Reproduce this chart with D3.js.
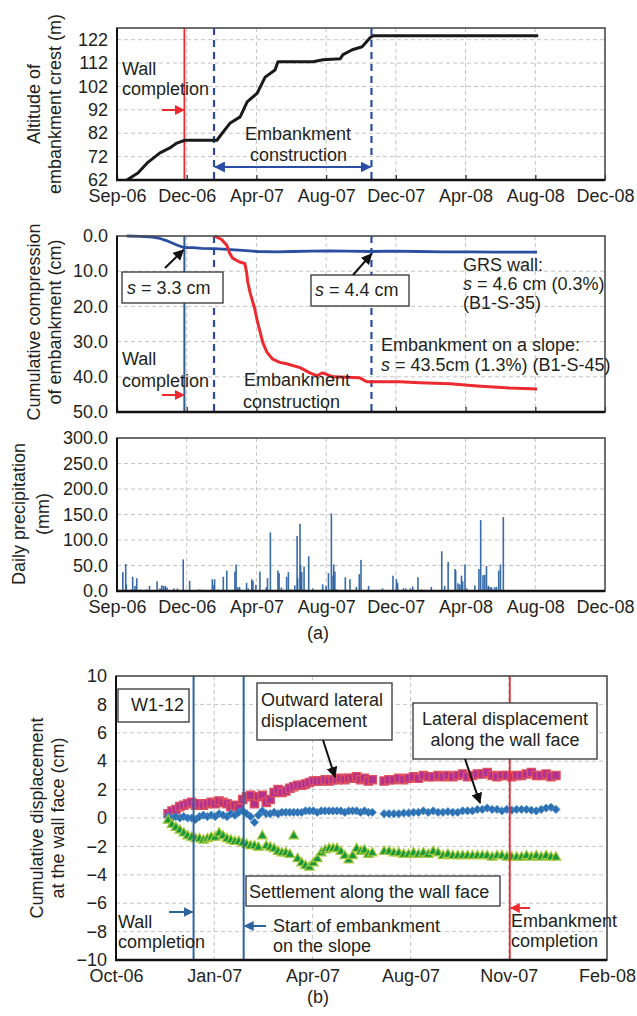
<!DOCTYPE html>
<html>
<head>
<meta charset="utf-8">
<script src="https://cdn.jsdelivr.net/npm/d3@7"></script>
<style>
  body { margin: 0; background: #fff; }
  svg { display: block; font-family: "Liberation Sans", Arial, Helvetica, sans-serif; }
</style>
</head>
<body>
<svg id="fig" width="637" height="1016"></svg>
<script>
// ---------- (a) altitude of embankment crest (m) ----------
const altDates = ["2006-09-18","2006-10-07","2006-10-23","2006-11-14","2006-12-01","2006-12-13","2006-12-27",
  "2007-02-20","2007-03-01","2007-03-15","2007-04-01","2007-04-13","2007-04-30","2007-05-14","2007-05-31",
  "2007-06-05","2007-08-04","2007-08-22","2007-09-20","2007-09-25","2007-10-11","2007-10-28","2007-11-11",
  "2007-11-16","2008-08-26"];
const altValues = [62,65,69.3,73.6,75.7,77.8,79,79,82,86.4,89,95.4,99,106,109,112.6,112.6,113.4,113.8,115.6,
  117.7,119,122.9,123.7,123.7];

// ---------- (a) cumulative compression of embankment (cm) ----------
const grsDates = ["2006-09-18","2006-10-10","2006-11-01","2006-11-14","2006-11-25","2006-12-05","2006-12-15",
  "2006-12-26","2007-01-10","2007-01-25","2007-02-15","2007-03-10","2007-04-05","2007-05-01","2007-06-01",
  "2007-07-01","2007-08-01","2007-09-01","2007-10-01","2007-11-13","2007-12-20","2008-02-01","2008-03-15",
  "2008-05-01","2008-06-15","2008-08-24"];
const grsValues = [0.0,0.1,0.3,0.7,1.3,2.0,2.7,3.3,3.3,3.5,3.6,3.8,4.1,4.4,4.5,4.4,4.3,4.2,4.3,4.4,4.3,4.4,4.5,
  4.5,4.6,4.6];
const slopeDates = ["2007-02-16","2007-02-28","2007-03-09","2007-03-14","2007-03-19","2007-03-31","2007-04-09",
  "2007-04-12","2007-04-14","2007-04-18","2007-04-26","2007-05-01","2007-05-10","2007-05-17","2007-05-27",
  "2007-06-08","2007-06-20","2007-07-13","2007-07-30","2007-08-11","2007-08-21","2007-09-08","2007-10-24",
  "2007-11-05","2008-01-01","2008-02-04","2008-03-27","2008-05-13","2008-07-08","2008-08-24"];
const slopeValues = [0.0,1.0,2.6,4.9,6.3,7.4,7.8,10.2,13.0,16.0,20.6,24.5,30.3,33.0,35.0,35.9,36.3,37.4,38.9,
  39.7,38.9,40.0,40.3,41.4,41.4,41.7,42.0,42.6,43.2,43.5];

// ---------- (a) daily precipitation (mm), rainy days only ----------
const rainDates = ["2006-09-01","2006-09-11","2006-09-16","2006-09-17","2006-09-25","2006-09-28","2006-10-02",
  "2006-10-05","2006-10-11","2006-10-21","2006-10-27","2006-11-06","2006-11-09","2006-11-14","2006-11-17",
  "2006-11-20","2006-11-23","2006-11-26","2006-12-08","2006-12-14","2006-12-24","2007-01-04","2007-01-20",
  "2007-01-25","2007-01-29","2007-02-12","2007-02-15","2007-02-16","2007-02-22","2007-03-03","2007-03-09",
  "2007-03-23","2007-03-25","2007-03-28","2007-03-31","2007-04-12","2007-04-15","2007-04-21","2007-04-23",
  "2007-04-28","2007-05-05","2007-05-16","2007-05-18","2007-05-23","2007-06-05","2007-06-07","2007-06-11",
  "2007-06-20","2007-06-23","2007-06-28","2007-07-04","2007-07-08","2007-07-09","2007-07-13","2007-07-14",
  "2007-07-16","2007-07-20","2007-07-28","2007-08-04","2007-08-21","2007-08-27","2007-08-31","2007-09-05",
  "2007-09-08","2007-09-09","2007-09-11","2007-09-14","2007-09-29","2007-10-07","2007-10-18","2007-10-23",
  "2007-10-26","2007-10-30","2007-11-05","2007-11-08","2007-12-02","2007-12-20","2007-12-26","2007-12-28",
  "2008-01-07","2008-01-11","2008-01-19","2008-01-23","2008-02-01","2008-02-07","2008-02-24","2008-03-13",
  "2008-03-18","2008-03-24","2008-04-05","2008-04-06","2008-04-10","2008-04-13","2008-04-16","2008-04-18",
  "2008-04-22","2008-04-25","2008-05-09","2008-05-16","2008-05-19","2008-05-23","2008-05-26","2008-05-29",
  "2008-06-01","2008-06-04","2008-06-07","2008-06-12","2008-06-15","2008-06-19","2008-06-22","2008-06-27"];
const rainValues = [57,37,53,13,3,28,10,25,3,3,10,2,19,5,11,10,10,7,5,5,62,20,3,3,2,23,12,23,3,28,40,38,52,7,8,
  16,5,23,20,12,38,7,25,115,40,35,7,28,37,3,11,108,25,132,50,37,48,68,5,13,10,35,152,30,52,38,3,27,23,8,33,61,2,
  2,10,5,30,23,16,5,5,5,9,27,3,8,78,10,57,43,40,15,13,30,19,52,5,11,43,139,31,32,49,10,8,7,7,8,40,52,145];

// ---------- (b) W1-12 wall face displacement (cm) ----------
const faceDates = ["2006-11-30","2006-12-04","2006-12-08","2006-12-12","2006-12-16","2006-12-20","2006-12-24",
  "2006-12-28","2007-01-01","2007-01-05","2007-01-09","2007-01-13","2007-01-17","2007-01-21","2007-01-25",
  "2007-01-29","2007-02-02","2007-02-06","2007-02-10","2007-02-14","2007-02-18","2007-02-22","2007-02-26",
  "2007-03-02","2007-03-06","2007-03-10","2007-03-14","2007-03-18","2007-03-22","2007-03-26","2007-03-30",
  "2007-04-03","2007-04-07","2007-04-11","2007-04-15","2007-04-19","2007-04-23","2007-04-27","2007-05-01",
  "2007-05-05","2007-05-09","2007-05-13","2007-05-17","2007-05-21","2007-05-25","2007-05-29","2007-06-02",
  "2007-06-06","2007-06-10","2007-06-14","2007-06-18","2007-06-22","2007-06-26",
  "2007-07-08","2007-07-13","2007-07-18","2007-07-23","2007-07-28","2007-08-02","2007-08-07","2007-08-12",
  "2007-08-17","2007-08-22","2007-08-27","2007-09-01","2007-09-06","2007-09-11","2007-09-16","2007-09-21",
  "2007-09-26","2007-10-01","2007-10-06","2007-10-11","2007-10-16","2007-10-21","2007-10-26","2007-10-31",
  "2007-11-05","2007-11-10","2007-11-15","2007-11-20","2007-11-25","2007-11-30","2007-12-05","2007-12-10",
  "2007-12-15","2007-12-20","2007-12-25","2007-12-30"];
const outwardValues = [0.3,0.5,0.6,0.8,0.9,1.0,1.1,0.9,1.0,0.9,1.0,1.1,1.0,1.2,1.1,1.0,0.8,0.9,0.7,1.3,
  1.5,1.6,1.0,1.5,1.6,1.1,1.3,1.8,2.0,1.8,1.9,2.1,2.2,2.3,2.3,2.4,2.5,2.6,2.6,2.6,2.7,2.6,2.7,2.7,2.8,2.7,
  2.8,2.8,2.9,2.7,2.8,2.6,2.7,
  2.6,2.7,2.7,2.8,2.7,2.8,2.9,2.8,3.0,2.9,2.9,3.0,2.9,3.0,2.9,3.0,3.1,2.9,3.0,3.1,3.1,3.2,3.0,2.9,3.0,3.0,
  2.9,3.0,3.0,3.1,3.2,3.0,3.0,3.1,2.9,3.0];
const alongValues = [0.1,0.0,0.1,0.0,0.1,0.0,0.0,-0.1,0.1,0.2,0.1,0.2,0.1,0.3,0.2,0.1,0.3,0.2,0.4,0.5,
  0.3,0.1,-0.3,0.2,0.5,0.3,0.3,0.4,0.3,0.4,0.4,0.4,0.4,0.4,0.4,0.5,0.5,0.5,0.4,0.5,0.5,0.5,0.5,0.5,0.5,0.4,
  0.5,0.5,0.5,0.4,0.5,0.4,0.4,
  0.3,0.3,0.3,0.3,0.35,0.35,0.4,0.4,0.5,0.4,0.5,0.4,0.4,0.45,0.4,0.4,0.5,0.5,0.5,0.6,0.6,0.7,0.6,0.6,0.5,
  0.6,0.55,0.6,0.6,0.6,0.55,0.5,0.6,0.7,0.75,0.6];
const settleValues = [-0.1,-0.4,-0.6,-0.8,-1.0,-1.2,-1.3,-1.4,-1.4,-1.5,-1.4,-1.3,-1.3,-1.0,-1.2,-1.4,-1.5,
  -1.6,-1.6,-1.7,-1.8,-1.9,-1.9,-2.0,-1.2,-1.9,-2.0,-2.1,-2.3,-2.4,-2.4,-2.5,-1.2,-2.8,-3.1,-3.3,-3.4,-3.1,
  -2.8,-2.4,-2.2,-2.1,-2.1,-2.1,-2.3,-2.6,-2.9,-2.6,-2.1,-2.3,-2.2,-2.5,-2.4,
  -2.3,-2.3,-2.4,-2.4,-2.5,-2.5,-2.4,-2.5,-2.4,-2.5,-2.3,-2.4,-2.6,-2.5,-2.6,-2.6,-2.6,-2.6,-2.6,-2.6,-2.6,
  -2.6,-2.7,-2.6,-2.6,-2.7,-2.7,-2.7,-2.7,-2.6,-2.7,-2.6,-2.7,-2.6,-2.7,-2.7];

// ---------- events and ticks ----------
const wallCompletion = "2006-12-26";
const embankStart = "2007-02-15";
const embankEnd = "2007-11-13";

const xTicksA = ["2006-09-01","2006-12-30","2007-04-29","2007-08-27","2007-12-25","2008-04-23","2008-08-21","2008-12-19"];
const xTicksB = ["2006-10-08","2007-01-16","2007-04-26","2007-08-04","2007-11-12","2008-02-20"];
const altTicks = [62,72,82,92,102,112,122];
const compTicks = [0,10,20,30,40,50];
const rainTicks = [0,50,100,150,200,250,300];
const dispTicks = [-10,-8,-6,-4,-2,0,2,4,6,8,10];

// ---------- setup ----------
const parse = d3.timeParse("%Y-%m-%d");
const fmtMonth = d3.timeFormat("%b-%y");
const INK = "#231f20";
const FS = 18;
const RED = "#ec2a30";
const NAVY = "#2a4ea6";
const STEEL = "#2d64a0";

const svg = d3.select("#fig");
svg.append("rect").attr("width", 637).attr("height", 1016).attr("fill", "#fff");
const defs = svg.append("defs");

function marker(id, color, size) {
  defs.append("marker").attr("id", id)
    .attr("viewBox", "0 0 10 10").attr("refX", 9).attr("refY", 5)
    .attr("markerWidth", size).attr("markerHeight", size)
    .attr("markerUnits", "userSpaceOnUse")
    .attr("orient", "auto-start-reverse")
    .append("path").attr("d", "M0,0L10,5L0,10Z").attr("fill", color);
}
marker("ah-black", "#111", 11);
marker("ah-red", RED, 10);
marker("ah-navy", NAVY, 11);
marker("ah-steel", STEEL, 10);

const xA = d3.scaleTime().domain([parse(xTicksA[0]), parse(xTicksA[xTicksA.length - 1])]).range([117, 605]);
const xB = d3.scaleTime().domain([parse(xTicksB[0]), parse(xTicksB[xTicksB.length - 1])]).range([116, 607]);
const yAlt = d3.scaleLinear().domain([62, 127]).range([180, 28]);
const yComp = d3.scaleLinear().domain([0, 50]).range([236, 412]);
const yRain = d3.scaleLinear().domain([0, 300]).range([591, 438]);
const yDisp = d3.scaleLinear().domain([-10, 10]).range([960, 676]);

function frame(x, y, xTicks, yTicks, yFormat, xLabels, innerTicks) {
  const [L, R] = x.range();
  const T = Math.min(...y.range()), B = Math.max(...y.range());
  const g = svg.append("g");
  const xt = xTicks.map(parse);
  g.selectAll(null).data(xt.filter(d => x(d) > L + 1 && x(d) < R - 1)).join("line")
    .attr("x1", d => x(d)).attr("x2", d => x(d)).attr("y1", T).attr("y2", B)
    .attr("stroke", "#c4c4c4").attr("stroke-width", 1).attr("stroke-dasharray", "4,3");
  g.selectAll(null).data(yTicks.filter(v => y(v) > T + 1 && y(v) < B - 1)).join("line")
    .attr("x1", L).attr("x2", R).attr("y1", d => y(d)).attr("y2", d => y(d))
    .attr("stroke", "#c4c4c4").attr("stroke-width", 1).attr("stroke-dasharray", "4,3");

  const ax = g.append("g").attr("transform", `translate(0,${B})`)
    .call(d3.axisBottom(x).tickValues(xt).tickSize(innerTicks ? -5 : 0).tickPadding(9.5)
      .tickFormat(xLabels ? fmtMonth : () => ""));
  ax.select(".domain").remove();
  ax.selectAll("line").attr("stroke", "#333").attr("stroke-width", 1.3);
  ax.attr("font-size", FS).attr("font-family", null);
  ax.selectAll("text").attr("fill", INK);

  const ay = g.append("g").attr("transform", `translate(${L},0)`)
    .call(d3.axisLeft(y).tickValues(yTicks).tickSize(0).tickPadding(9).tickFormat(yFormat));
  ay.select(".domain").remove();
  ay.attr("font-size", FS).attr("font-family", null);
  ay.selectAll("text").attr("fill", INK);
  return { L, R, T, B };
}

function border(b) {
  const g = svg.append("g");
  g.append("rect").attr("x", b.L).attr("y", b.T).attr("width", b.R - b.L).attr("height", b.B - b.T)
    .attr("fill", "none").attr("stroke", "#4a4a4a").attr("stroke-width", 1.6);
  g.append("line").attr("x1", b.L).attr("x2", b.L).attr("y1", b.T).attr("y2", b.B + 1)
    .attr("stroke", "#111").attr("stroke-width", 2);
  g.append("line").attr("x1", b.L - 1).attr("x2", b.R).attr("y1", b.B).attr("y2", b.B)
    .attr("stroke", "#111").attr("stroke-width", 2.6);
}

function text(x, y, lines, opts = {}) {
  const t = svg.append("text").attr("x", x).attr("y", y).attr("font-size", FS).attr("fill", INK)
    .attr("text-anchor", opts.anchor || "start");
  lines.forEach((ln, i) => {
    const sp = t.append("tspan").attr("x", x).attr("dy", i ? (opts.lh || 20.5) : 0);
    if (ln.startsWith("s = ")) {
      sp.append("tspan").attr("font-style", "italic").text("s");
      t.append("tspan").text(ln.slice(1));
    } else sp.text(ln);
  });
  return t;
}

function yTitle(cy, lines, xs) {
  lines.forEach((ln, i) => {
    svg.append("text").attr("transform", `translate(${xs[i]},${cy}) rotate(-90)`)
      .attr("text-anchor", "middle").attr("font-size", FS).attr("fill", INK).text(ln);
  });
}

function vline(x, b, date, color, w, dash) {
  svg.append("line").attr("x1", x(parse(date))).attr("x2", x(parse(date)))
    .attr("y1", b.T).attr("y2", b.B).attr("stroke", color).attr("stroke-width", w)
    .attr("stroke-dasharray", dash || null);
}

function arrow(x1, y1, x2, y2, color, id, w, both) {
  svg.append("line").attr("x1", x1).attr("y1", y1).attr("x2", x2).attr("y2", y2)
    .attr("stroke", color).attr("stroke-width", w || 2)
    .attr("marker-end", `url(#${id})`).attr("marker-start", both ? `url(#${id})` : null);
}

function box(x, y, w, h) {
  svg.append("rect").attr("x", x).attr("y", y).attr("width", w).attr("height", h)
    .attr("fill", "#fff").attr("stroke", "#333").attr("stroke-width", 1.3);
}

// ================= panel 1: altitude =================
const b1 = frame(xA, yAlt, xTicksA, altTicks, d3.format("d"), true, true);
vline(xA, b1, wallCompletion, RED, 1.8);
vline(xA, b1, embankStart, NAVY, 2.2, "7,5");
vline(xA, b1, embankEnd, NAVY, 2.2, "7,5");
svg.append("path")
  .datum(altDates.map((d, i) => [parse(d), altValues[i]]))
  .attr("d", d3.line().x(d => xA(d[0])).y(d => yAlt(d[1])))
  .attr("fill", "none").attr("stroke", "#1a1a1a").attr("stroke-width", 3).attr("stroke-linejoin", "round");
border(b1);
yTitle(104, ["Altitude of", "embankment crest (m)"], [40, 61]);
text(122, 75, ["Wall", "completion"], { lh: 20 });
arrow(162, 110, 184, 110, RED, "ah-red", 2);
text(245, 140, ["Embankment"]);
text(250, 161, ["construction"]);
arrow(xA(parse(embankStart)) + 1, 167, xA(parse(embankEnd)) - 1, 167, NAVY, "ah-navy", 2, true);

// ================= panel 2: compression =================
const b2 = frame(xA, yComp, xTicksA, compTicks, d3.format(".1f"), false, true);
vline(xA, b2, wallCompletion, "#2c5d8c", 2);
vline(xA, b2, embankStart, NAVY, 2.2, "7,5");
vline(xA, b2, embankEnd, NAVY, 2.2, "7,5");
const compLine = d3.line().x(d => xA(d[0])).y(d => yComp(d[1]));
svg.append("path").datum(grsDates.map((d, i) => [parse(d), grsValues[i]]))
  .attr("d", compLine).attr("fill", "none").attr("stroke", "#2b4ea0").attr("stroke-width", 2.8)
  .attr("stroke-linejoin", "round");
svg.append("path").datum(slopeDates.map((d, i) => [parse(d), slopeValues[i]]))
  .attr("d", compLine).attr("fill", "none").attr("stroke", RED).attr("stroke-width", 3)
  .attr("stroke-linejoin", "round");
border(b2);
yTitle(322, ["Cumulative compression", "of embankment (cm)"], [40, 61]);
box(122, 272, 101, 31);
text(127, 294, ["s = 3.3 cm"]);
arrow(165, 268, xA(parse(wallCompletion)) - 1, 250, "#111", "ah-black", 2);
box(311, 275, 98, 31);
text(315, 296, ["s = 4.4 cm"]);
arrow(353, 275, xA(parse(embankEnd)), 254, "#111", "ah-black", 2);
text(463, 271, ["GRS wall:", "s = 4.6 cm (0.3%)", "(B1-S-35)"], { lh: 19 });
text(381, 351, ["Embankment on a slope:", "s = 43.5cm (1.3%) (B1-S-45)"], { lh: 19.5 });
text(122, 365, ["Wall", "completion"], { lh: 22 });
arrow(162, 395, 184, 395, RED, "ah-red", 2);
text(244, 386, ["Embankment"]);
text(243, 408, ["construction"]);

// ================= panel 3: precipitation =================
const b3 = frame(xA, yRain, xTicksA, rainTicks, d3.format(".1f"), true, false);
svg.append("g").selectAll("rect").data(rainDates.map((d, i) => [parse(d), rainValues[i]])).join("rect")
  .attr("x", d => xA(d[0]) - 0.8).attr("width", 1.6)
  .attr("y", d => yRain(d[1])).attr("height", d => yRain(0) - yRain(d[1]))
  .attr("fill", "#28609f").attr("fill-opacity", 0.92);
border(b3);
yTitle(514, ["Daily precipitation", "(mm)"], [25, 49]);
text(318, 639, ["(a)"], { anchor: "middle" });

// ================= panel (b): wall face displacement =================
const b4 = frame(xB, yDisp, xTicksB, dispTicks, d3.format("d"), true, false);
const fd = faceDates.map(parse);
const symSq = d3.symbol(d3.symbolSquare, 68)();
const symDi = d3.symbol(d3.symbolSquare, 34)();
const symTr = d3.symbol(d3.symbolTriangle, 40)();
svg.append("g").selectAll("path").data(outwardValues.map((v, i) => [fd[i], v])).join("path")
  .attr("d", symSq).attr("transform", d => `translate(${xB(d[0])},${yDisp(d[1])})`)
  .attr("fill", "#b0318f").attr("stroke", "#e2505c").attr("stroke-width", 1.3);
svg.append("g").selectAll("path").data(alongValues.map((v, i) => [fd[i], v])).join("path")
  .attr("d", symDi).attr("transform", d => `translate(${xB(d[0])},${yDisp(d[1])}) rotate(45)`)
  .attr("fill", "#2a6fb2").attr("stroke", "#4f8fcf").attr("stroke-width", 0.8);
svg.append("g").selectAll("path").data(settleValues.map((v, i) => [fd[i], v])).join("path")
  .attr("d", symTr).attr("transform", d => `translate(${xB(d[0])},${yDisp(d[1]) + 1})`)
  .attr("fill", "#16983c").attr("stroke", "#a6c83a").attr("stroke-width", 1.2);
vline(xB, b4, wallCompletion, STEEL, 2);
vline(xB, b4, embankStart, STEEL, 2);
vline(xB, b4, embankEnd, RED, 1.8);
border(b4);
yTitle(818, ["Cumulative displacement", "at the wall face (cm)"], [43, 64]);

box(118, 689, 71, 33);
text(131, 711, ["W1-12"]);
box(257, 683, 135, 57);
text(261, 706, ["Outward lateral", "displacement"], { lh: 21 });
arrow(323, 740, 335, 777, "#111", "ah-black", 2);
box(413, 703, 184, 56);
text(505, 725, ["Lateral displacement", "along the wall face"], { anchor: "middle", lh: 21 });
arrow(465, 759, 480, 803, "#111", "ah-black", 2);
box(246, 876, 254, 30);
text(249, 898, ["Settlement along the wall face"]);

arrow(169, 912, xB(parse(wallCompletion)) - 1, 912, STEEL, "ah-steel", 2);
text(118, 928, ["Wall", "completion"], { lh: 20 });
arrow(266, 926, xB(parse(embankStart)) + 1, 926, STEEL, "ah-steel", 2);
text(273, 932, ["Start of embankment", "on the slope"], { lh: 20 });
arrow(530, 908, xB(parse(embankEnd)) + 1, 908, RED, "ah-red", 2);
text(511, 927, ["Embankment", "completion"], { lh: 20 });
text(318, 1003, ["(b)"], { anchor: "middle" });
</script>
</body>
</html>
